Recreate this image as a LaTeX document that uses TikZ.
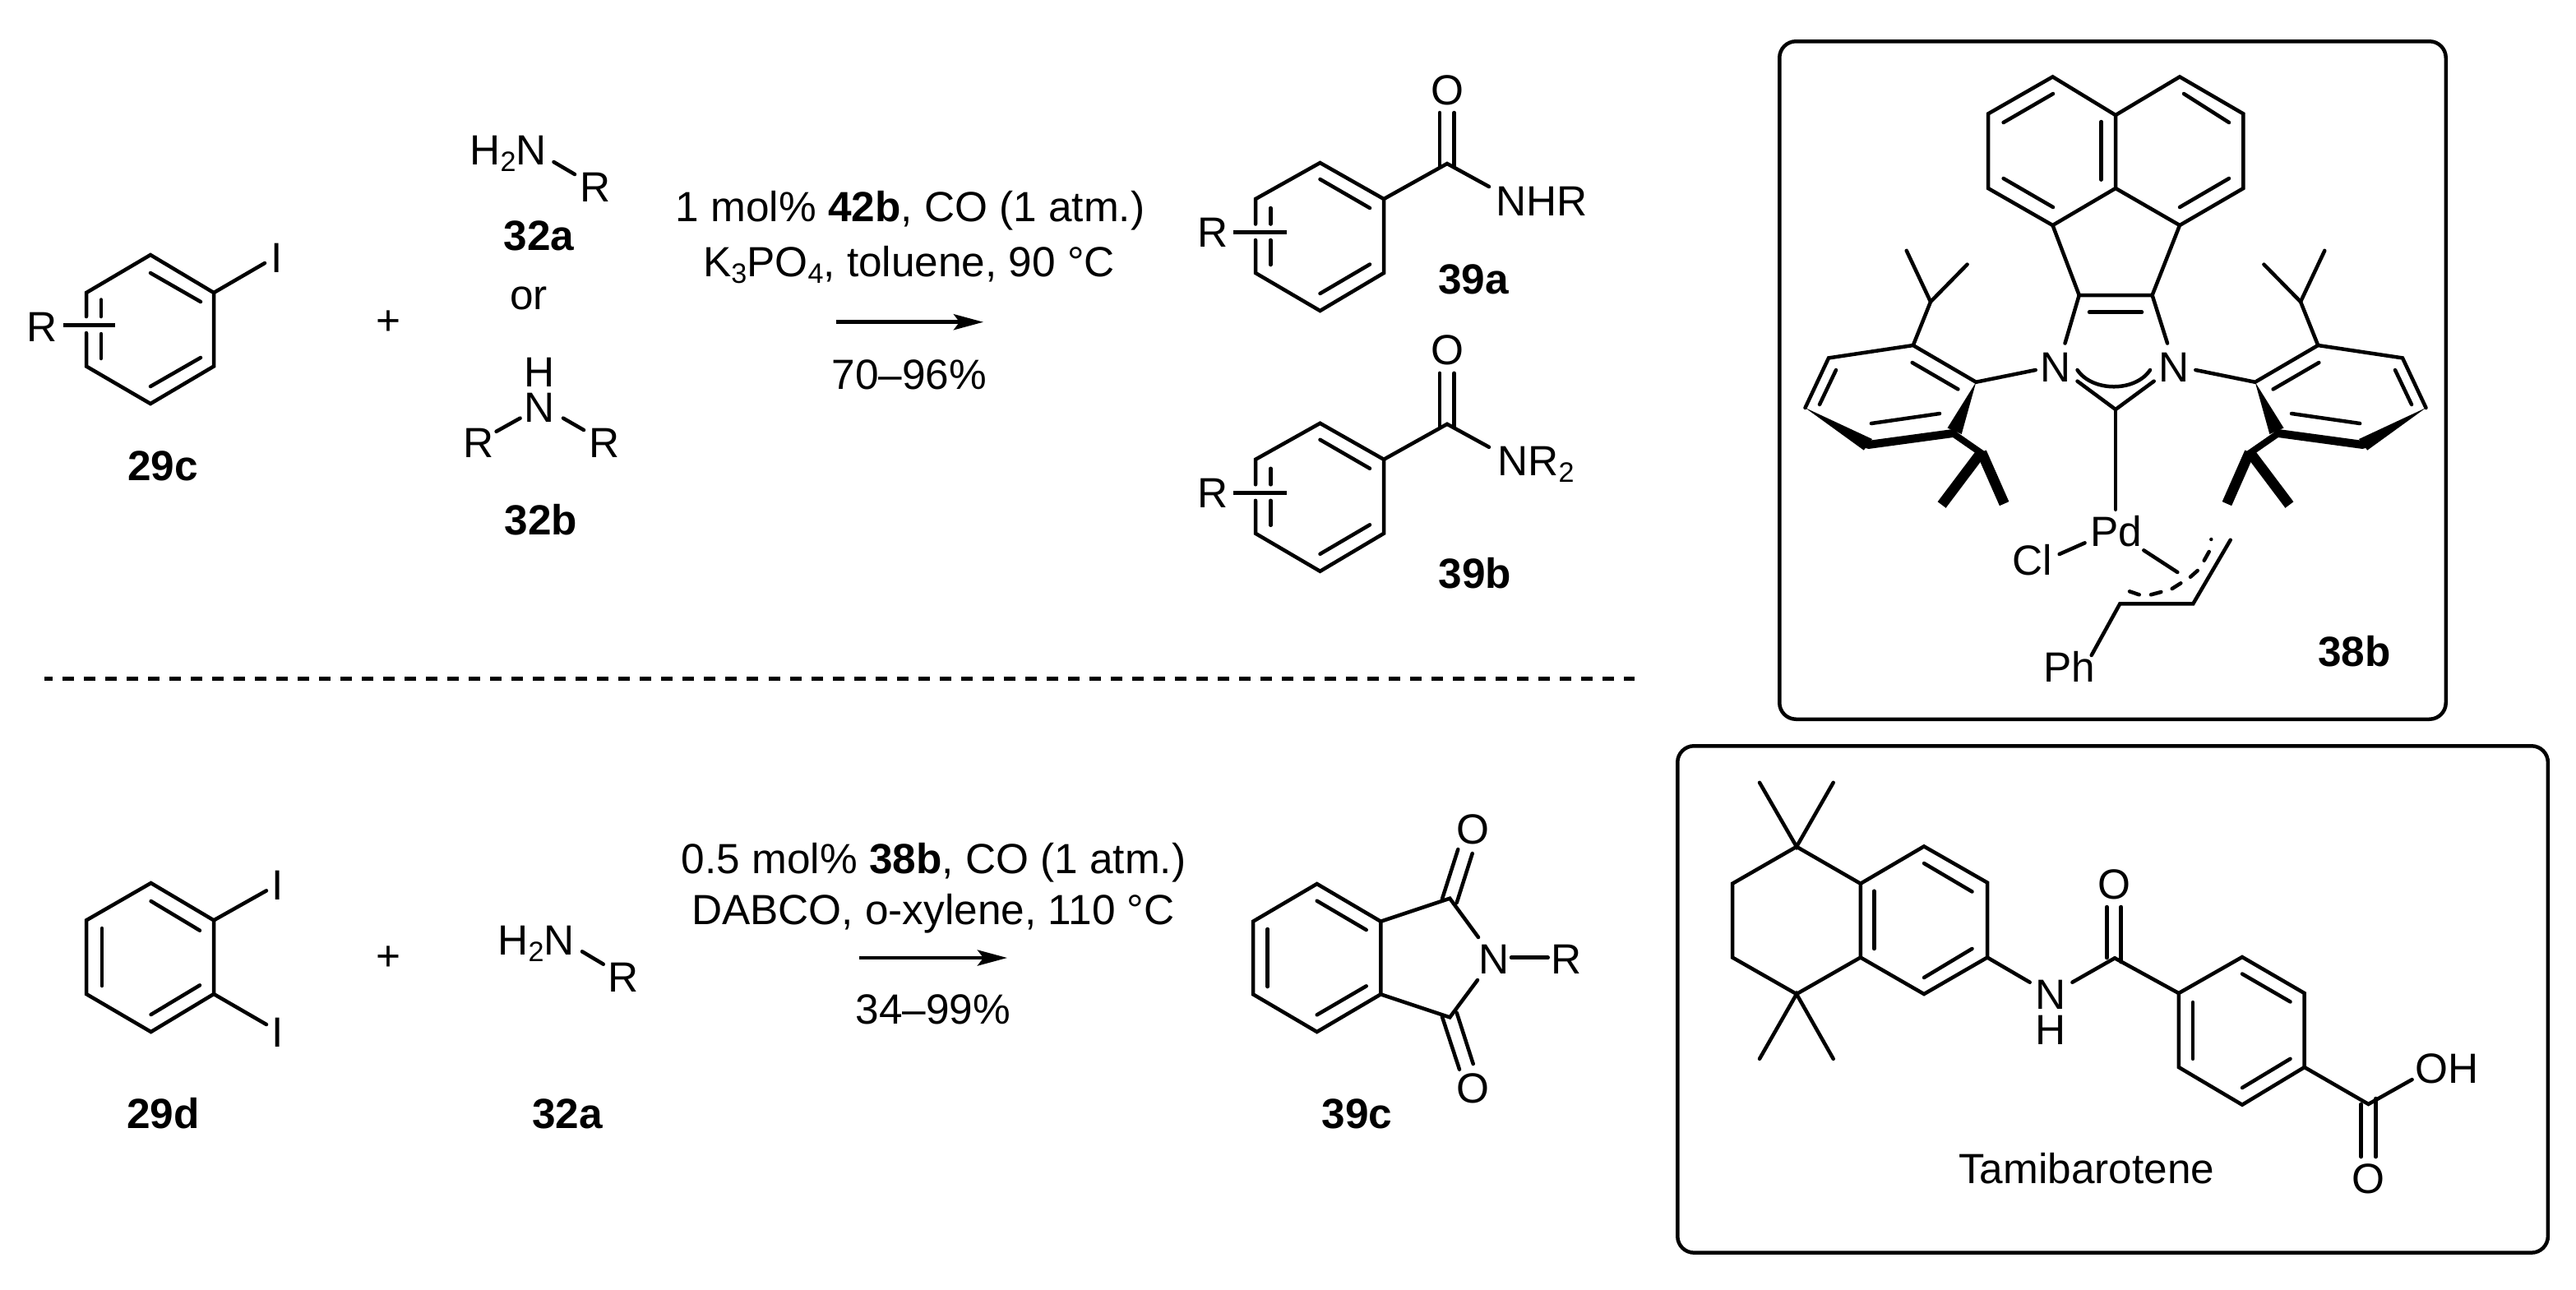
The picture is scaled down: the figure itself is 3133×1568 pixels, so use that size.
\documentclass[tikz,border=0pt]{standalone}
\usepackage{fontspec}
\setmainfont{Liberation Sans}
\usetikzlibrary{arrows.meta}
\newcommand\sbs[1]{\raisebox{-0.16em}{\fontsize{9.7}{10}\selectfont #1}}
\newcommand\lab[4]{\node[lbl] (#1) at (#2,#3) {#4};}
% six ring atoms
\newcommand\ringpts[7]{%
 \coordinate (#1a) at #2; \coordinate (#1b) at #3; \coordinate (#1c) at #4;
 \coordinate (#1d) at #5; \coordinate (#1e) at #6; \coordinate (#1f) at #7;}
% half of the catalyst: one N-aryl group
\newcommand\halfaryl{%
 \coordinate (ipso) at (2403.3,464.7); \coordinate (ob) at (2326.8,420);
 \coordinate (mc) at (2224,435.4); \coordinate (pd) at (2195.5,496);
 \coordinate (me) at (2272,541); \coordinate (of) at (2375,527);
 \coordinate (ch) at (2348,367); \coordinate (chb) at (2412.5,553);
 \draw[bond] (2475.7,450) -- (ipso) -- (ob) -- (mc) -- (pd);
 \draw[bond] (2325.7,441) -- (2381.4,473.4);
 \draw[bond] (2233,450) -- (2213,492);
 \draw[bond] (2275.9,515) -- (2359,503);
 \draw[bond] (ob) -- (ch) -- (2318.7,304.8);
 \draw[bond] (ch) -- (2392.6,321.6);
 \fill (ipso) -- (2368.5,520.5) -- (2385.7,528) -- cycle;
 \fill (pd) -- (2277,534) -- (2266.8,547.6) -- cycle;
 \draw[heavy] (me) -- (of);
 \draw[line width=0.08cm] (of) -- (chb);
 \draw[line width=0.125cm] (2409,551) -- (2361.6,614);
 \draw[line width=0.125cm] (2410,550) -- (2437.6,612.6);
}
\tikzset{
 x=0.01cm,y=-0.01cm,
 lbl/.style={anchor=base,inner sep=0pt,outer sep=0pt,text height=0.36cm,text depth=0pt,font=\fontsize{14.6}{17}\selectfont},
 bond/.style={line width=0.045cm,line cap=round,line join=miter},
 heavy/.style={line width=0.1cm,line cap=round,line join=round},
 subst/.style={line width=0.048cm},
 framebox/.style={line width=0.045cm,rounded corners=0.2cm},
 rxnarrow/.style={line width=0.045cm,-{Stealth[length=0.36cm,width=0.19cm,inset=0.07cm]}}
}
\begin{document}
\begin{tikzpicture}
\useasboundingbox (0,0) rectangle (3133,1568);
\fill[white] (0,0) rectangle (3133,1568);

% ---------- 29c
\ringpts{p}{(183,310)}{(260,356)}{(260,445.5)}{(183,491)}{(105,445.5)}{(105,356)}
\draw[bond] (105,385) -- (pf) -- (pa) -- (pb) -- (pc) -- (pd) -- (pe) -- (105,405);
\draw[bond] (183,332) -- (244,367);
\draw[bond] (183,470) -- (244,435);
\draw[bond] (123,364.5) -- (123,385);
\draw[bond] (123,406) -- (123,436);
\lab{rA}{51}{415}{R}
\draw[subst] (76.5,395.5) -- (140,395.5);
\lab{iA}{337}{331}{I}
\draw[bond] (pb) -- (322,320);
\lab{n29c}{198}{584.5}{\textbf{29c}}
\lab{plusA}{472}{407}{+}

% ---------- 32a / 32b
\lab{amA}{618}{200.7}{H\sbs{2}N}
\lab{rB}{724.5}{245.5}{R}
\draw[bond] (673.5,197) -- (699,212);
\lab{n32a}{655.6}{304}{\textbf{32a}}
\lab{orA}{643}{376.6}{or}
\lab{hC}{655.6}{470.4}{H}
\lab{nC}{655.6}{513}{N}
\lab{rC}{581.6}{556.6}{R}
\lab{rD}{734.7}{556.6}{R}
\draw[bond] (632.6,508.6) -- (603.6,524.8);
\draw[bond] (685,508.6) -- (710,523);
\lab{n32b}{658}{650}{\textbf{32b}}

% ---------- top conditions
\lab{tA}{1107}{269.3}{1 mol\% \textbf{42b}, CO (1 atm.)}
\lab{tB}{1105.6}{336.7}{K\sbs{3}PO\sbs{4}, toluene, 90 °C}
\coordinate (arAs) at (1016.5,391.7);
\coordinate (arAe) at (1196,391.7);
\draw[rxnarrow] (arAs) -- (arAe);
\lab{tC}{1106}{473}{70–96\%}

% ---------- 39a
\begin{scope}
\ringpts{q}{(1605.5,198)}{(1683,242)}{(1683,332)}{(1605.5,378)}{(1527,332)}{(1527,242)}
\draw[bond] (1527,272.5) -- (qf) -- (qa) -- (qb) -- (qc) -- (qd) -- (qe) -- (1527,292);
\draw[bond] (1605.5,218) -- (1666,253);
\draw[bond] (1605.5,357) -- (1666,321.5);
\draw[bond] (1545.4,253) -- (1545.4,272.5);
\draw[bond] (1545.4,292) -- (1545.4,322);
\draw[subst] (1499.5,282.5) -- (1564.6,282.5);
\coordinate (qC) at (1760,199);
\draw[bond] (qb) -- (qC) -- (1811,227);
\draw[bond] (1751,137) -- (1751,203);
\draw[bond] (1768.5,137) -- (1768.5,203);
\end{scope}
\lab{rE}{1474.6}{300.7}{R}
\lab{oE}{1760}{127}{O}
\lab{nE}{1875}{262}{NHR}
\lab{n39a}{1792}{357}{\textbf{39a}}

% ---------- 39b
\begin{scope}[yshift=-3.166cm]
\ringpts{s}{(1605.5,198)}{(1683,242)}{(1683,332)}{(1605.5,378)}{(1527,332)}{(1527,242)}
\draw[bond] (1527,272.5) -- (sf) -- (sa) -- (sb) -- (sc) -- (sd) -- (se) -- (1527,292);
\draw[bond] (1605.5,218) -- (1666,253);
\draw[bond] (1605.5,357) -- (1666,321.5);
\draw[bond] (1545.4,253) -- (1545.4,272.5);
\draw[bond] (1545.4,292) -- (1545.4,322);
\draw[subst] (1499.5,282.5) -- (1564.6,282.5);
\coordinate (sC) at (1760,199);
\draw[bond] (sb) -- (sC) -- (1811,227);
\draw[bond] (1751,137) -- (1751,203);
\draw[bond] (1768.5,137) -- (1768.5,203);
\end{scope}
\lab{rF}{1474.6}{617.3}{R}
\lab{oF}{1760}{443.6}{O}
\lab{nF}{1868}{578.6}{NR\sbs{2}}
\lab{n39b}{1794}{715}{\textbf{39b}}

% ---------- separator
\coordinate (sepS) at (54,825.6);
\coordinate (sepE) at (1988,825.6);
\draw[line width=0.045cm,dash pattern=on 0.14cm off 0.12cm,dash phase=0.04cm] (sepS) -- (sepE);

% ---------- 29d
\ringpts{u}{(183.6,1074)}{(260,1119.3)}{(260,1209)}{(183.6,1255)}{(105,1209)}{(105,1119.3)}
\draw[bond] (ua) -- (ub) -- (uc) -- (ud) -- (ue) -- (uf) -- cycle;
\draw[bond] (183.6,1096) -- (243,1131.7);
\draw[bond] (243,1198.3) -- (183.6,1234);
\draw[bond] (124,1129) -- (124,1199);
\draw[bond] (ub) -- (324,1083.3);
\draw[bond] (uc) -- (324,1246);
\lab{iB}{337.3}{1094}{I}
\lab{iC}{337.3}{1273}{I}
\lab{n29d}{198.6}{1372.7}{\textbf{29d}}
\lab{plusB}{472}{1180}{+}
\lab{amB}{652}{1161}{H\sbs{2}N}
\lab{rG}{758}{1206.7}{R}
\draw[bond] (708,1157.3) -- (733.8,1172.7);
\lab{n32c}{690}{1372.7}{\textbf{32a}}

% ---------- lower conditions
\lab{tD}{1135.6}{1062.7}{0.5 mol\% \textbf{38b}, CO (1 atm.)}
\lab{tE}{1134.8}{1124}{DABCO, o-xylene, 110 °C}
\coordinate (arBs) at (1045,1165);
\coordinate (arBe) at (1225,1165);
\draw[rxnarrow] (arBs) -- (arBe);
\lab{tF}{1134.8}{1245}{34–99\%}

% ---------- 39c
\ringpts{v}{(1601.7,1075)}{(1679.3,1120.7)}{(1679.3,1209.3)}{(1601.7,1255)}{(1524,1209.3)}{(1524,1120.7)}
\draw[bond] (va) -- (vb) -- (vc) -- (vd) -- (ve) -- (vf) -- cycle;
\draw[bond] (1601.7,1095.7) -- (1661.7,1131);
\draw[bond] (1661.7,1199.3) -- (1601.7,1234.3);
\draw[bond] (1541.7,1130) -- (1541.7,1200);
\coordinate (vC) at (1763.3,1092.7);
\coordinate (vD) at (1763.3,1237.3);
\draw[bond] (vb) -- (vC) -- (1798,1140);
\draw[bond] (vc) -- (vD) -- (1797,1192);
\draw[bond] (1754,1093.3) -- (1773.3,1033);
\draw[bond] (1771.7,1098) -- (1790.7,1038);
\draw[bond] (1754,1236.7) -- (1775,1300.7);
\draw[bond] (1771.7,1231.7) -- (1791.7,1294);
\draw[bond] (1838,1164.7) -- (1882.7,1164.7);
\lab{oG}{1791.7}{1026}{O}
\lab{oH}{1791.7}{1341}{O}
\lab{nG}{1816.7}{1184}{N}
\lab{rH}{1905}{1184}{R}
\lab{n39c}{1650.7}{1372}{\textbf{39c}}

% ---------- box 38b
\node[draw,framebox,inner sep=0pt,minimum width=8.1cm,minimum height=8.24cm,anchor=north west] (boxA) at (2162,48) {};
\ringpts{w}{(2496.5,93.4)}{(2573,140)}{(2573,229)}{(2496.5,274)}{(2418,229)}{(2418,138.4)}
\ringpts{y}{(2651,93.4)}{(2728.4,138.4)}{(2728.4,229)}{(2651,274)}{(2573,229)}{(2573,140)}
\draw[bond] (wa) -- (wb) -- (wc) -- (wd) -- (we) -- (wf) -- cycle;
\draw[bond] (wb) -- (ya) -- (yb) -- (yc) -- (yd) -- (wc);
\draw[bond] (2555.5,148) -- (2555.5,218.6);
\draw[bond] (2436.6,149) -- (2497,114);
\draw[bond] (2436.6,217) -- (2497,252);
\draw[bond] (2656,114) -- (2711,149);
\draw[bond] (2651,252) -- (2711,217);
\coordinate (k) at (2528.7,359);
\coordinate (l) at (2617.6,359);
\coordinate (cb) at (2573,498);
\draw[bond] (wd) -- (k) -- (l) -- (yd);
\draw[bond] (2541,379.6) -- (2605,379.6);
\draw[bond] (k) -- (2511.5,417.5);
\draw[bond] (l) -- (2636,417.5);
\draw[bond] (2526.5,463.6) -- (cb) -- (2619.7,463.6);
\draw[bond] (2526.5,450) .. controls (2545,477) and (2597,477) .. (2615,450);
\draw[bond] (cb) -- (2573,619.7);
\lab{nJ}{2499.8}{464}{N}
\lab{nK}{2644.4}{464}{N}
\lab{pdA}{2573.7}{664}{Pd}
\lab{clA}{2471.8}{699.4}{Cl}
\draw[bond] (2504.6,674) -- (2535.6,660.3);
\draw[bond] (2607.3,669.3) -- (2648.3,696);
\coordinate (al1) at (2578.3,734.3);
\coordinate (al2) at (2667.3,734.3);
\coordinate (al3) at (2712.7,656.7);
\draw[bond] (2543.7,797) -- (al1) -- (al2) -- (al3);
\draw[bond] (2590,719.3) -- (2601.7,723.3);
\draw[bond] (2616,723.3) -- (2628.3,720);
\draw[bond] (2641.7,716) -- (2652.3,709.3);
\draw[bond] (2664,701.7) -- (2672.7,694);
\draw[bond] (2680.7,681.7) -- (2686.7,671);
\fill (2689.3,656) circle[radius=2.2];
\lab{phA}{2517}{829.5}{Ph}
\lab{n38b}{2863.5}{810.5}{\textbf{38b}}
\halfaryl
\begin{scope}[shift={(5146,0)},xscale=-1]
\halfaryl
\end{scope}

% ---------- box Tamibarotene
\node[draw,framebox,inner sep=0pt,minimum width=10.58cm,minimum height=6.16cm,anchor=north west] (boxB) at (2038,905) {};
\coordinate (t1) at (2185,1029.8);
\coordinate (t2) at (2262.8,1074.7);
\coordinate (t3) at (2262.8,1164.5);
\coordinate (t4) at (2185,1209);
\coordinate (t5) at (2107,1164.5);
\coordinate (t6) at (2107,1074.7);
\coordinate (t7) at (2340,1029.4);
\coordinate (t8) at (2417,1073.5);
\coordinate (t9) at (2417,1164.5);
\coordinate (t10) at (2340,1209);
\draw[bond] (t1) -- (t2) -- (t3) -- (t4) -- (t5) -- (t6) -- cycle;
\draw[bond] (t2) -- (t7) -- (t8) -- (t9) -- (t10) -- (t3);
\draw[bond] (2140,951.8) -- (t1) -- (2229.7,951.8);
\draw[bond] (2140,1287.8) -- (t4) -- (2229.7,1287.8);
\draw[bond] (2279.3,1083.7) -- (2279.3,1153.9);
\draw[bond] (2340,1050) -- (2398.5,1084.5);
\draw[bond] (2340,1189) -- (2398.5,1153.9);
\draw[bond] (t9) -- (2468.7,1194.7);
\coordinate (tc) at (2572,1165.3);
\draw[bond] (2520.4,1194.7) -- (tc);
\draw[bond] (2562.4,1103) -- (2562.4,1165);
\draw[bond] (2579.6,1103) -- (2579.6,1170);
\ringpts{r}{(2727,1164)}{(2802.7,1208)}{(2802.7,1298)}{(2727,1343.7)}{(2649.8,1298)}{(2649.8,1208)}
\draw[bond] (ra) -- (rb) -- (rc) -- (rd) -- (re) -- (rf) -- cycle;
\draw[bond] (tc) -- (rf);
\draw[bond] (2667,1219) -- (2667,1287.8);
\draw[bond] (2727,1184.5) -- (2785.5,1218.4);
\draw[bond] (2727,1323) -- (2785.5,1287.8);
\coordinate (cc) at (2880.5,1342.9);
\draw[bond] (rc) -- (cc) -- (2933.6,1313);
\draw[bond] (2871.6,1342.9) -- (2871.6,1407);
\draw[bond] (2889.5,1336) -- (2889.5,1407);
\lab{oJ}{2571}{1093}{O}
\lab{nL}{2494}{1227.8}{N}
\lab{hL}{2494}{1270.6}{H}
\lab{ohA}{2976}{1317}{OH}
\lab{oK}{2880.5}{1451}{O}
\lab{nameA}{2537.6}{1439.6}{Tamibarotene}
\end{tikzpicture}
\end{document}
